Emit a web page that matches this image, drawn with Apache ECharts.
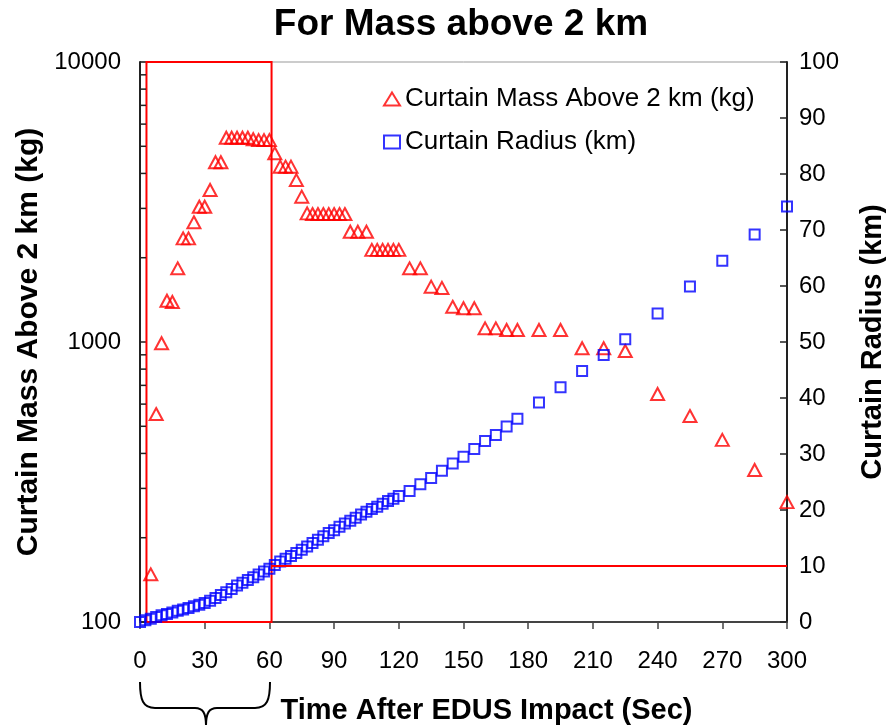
<!DOCTYPE html>
<html>
<head>
<meta charset="utf-8">
<script src="https://cdn.jsdelivr.net/npm/echarts@6/dist/echarts.min.js"></script>
<style>
html,body{margin:0;padding:0;background:#fff;overflow:hidden;}
#chart{width:886px;height:725px;}
</style>
</head>
<body>
<div id="chart"></div>
<script>
const titleText = 'For Mass above 2 km';
const massName = 'Curtain Mass Above 2 km (kg)';
const radiusName = 'Curtain Radius (km)';
const xName = 'Time After EDUS Impact (Sec)';

const massTime = [5,7.5,10,12.5,15,17.5,20,22.5,25,27.5,30,32.5,35,37.5,40,42.5,45,47.5,50,52.5,55,57.5,60,62.5,65,67.5,70,72.5,75,77.5,80,82.5,85,87.5,90,92.5,95,97.5,101,105,107.5,110,112.5,115,117.5,120,125,130,135,140,145,150,155,160,165,170,175,185,195,205,215,225,240,255,270,285,300];
const massKg = [148,553,990,1404,1390,1833,2345,2345,2676,3041,3041,3490,4385,4385,5366,5366,5366,5366,5366,5300,5262,5262,5262,4720,4228,4228,4228,3787,3304,2880,2864,2864,2864,2864,2864,2864,2864,2477,2477,2477,2133,2133,2133,2133,2133,2133,1833,1833,1576,1560,1336,1320,1320,1119,1119,1104,1104,1104,1104,950,950,929,652,544,447,349,268];

const radiusTime = [0,2.5,5,7.5,10,12.5,15,17.5,20,22.5,25,27.5,30,32.5,35,37.5,40,42.5,45,47.5,50,52.5,55,57.5,60,62.5,65,67.5,70,72.5,75,77.5,80,82.5,85,87.5,90,92.5,95,97.5,100,102.5,105,107.5,110,112.5,115,117.5,120,125,130,135,140,145,150,155,160,165,170,175,185,195,205,215,225,240,255,270,285,300];
const radiusKm = [0,0.3,0.6,0.9,1.2,1.45,1.7,2.0,2.25,2.5,2.8,3.1,3.4,3.8,4.3,4.8,5.3,5.9,6.5,7.0,7.5,8.0,8.5,9.0,9.5,10.2,10.8,11.3,11.8,12.3,12.9,13.5,14.1,14.7,15.3,15.9,16.4,17.0,17.6,18.1,18.6,19.2,19.7,20.2,20.6,21.1,21.6,22.0,22.5,23.4,24.6,25.7,27.0,28.3,29.5,30.9,32.3,33.4,34.9,36.3,39.2,41.9,44.8,47.7,50.5,55.1,59.9,64.5,69.2,74.2];

const minorMassTicks = [200,300,400,500,600,700,800,900,2000,3000,4000,5000,6000,7000,8000,9000];
const boxTime = [3, 61];
const boxMass = [100, 10000];
const refRadius = 10;
const refTime = [61, 300];

const font = 'Liberation Sans, Arial, sans-serif';
const chart = echarts.init(document.getElementById('chart'), null, {renderer: 'canvas', width: 886, height: 725});

const braceStyle = {fill: 'none', stroke: '#000', lineWidth: 2};
const option = {
  backgroundColor: '#fff',
  animation: false,
  title: {
    text: titleText, left: 456, textAlign: 'center', top: 1,
    textStyle: {fontFamily: font, fontWeight: 'bold', fontSize: 37, color: '#000'}
  },
  legend: {
    orient: 'vertical', left: 378, top: 81, itemGap: 17,
    itemWidth: 16, itemHeight: 13,
    textStyle: {fontFamily: font, fontSize: 26, color: '#000', lineHeight: 24},
    data: [
      {name: massName, icon: 'triangle', itemStyle: {color: 'transparent', borderColor: '#ff0000', borderWidth: 2}},
      {name: radiusName, icon: 'rect', itemStyle: {color: 'transparent', borderColor: '#0000ff', borderWidth: 2}}
    ]
  },
  grid: {left: 140, right: 99, top: 62, bottom: 103, containLabel: false, outerBoundsMode: 'none',
    show: true, borderColor: '#999', borderWidth: 1, backgroundColor: 'transparent'},
  xAxis: {
    type: 'value', min: 0, max: 300, interval: 30,
    name: xName, nameLocation: 'middle', nameGap: 74,
    nameTextStyle: {fontFamily: font, fontWeight: 'bold', fontSize: 29, color: '#000', padding: [0, 0, 0, 46]},
    axisLine: {show: true, lineStyle: {color: '#444', width: 2}},
    axisTick: {show: true, inside: false, length: 7, lineStyle: {color: '#444', width: 1.5}},
    axisLabel: {fontFamily: font, fontSize: 24, color: '#000', margin: 27},
    splitLine: {show: false}
  },
  yAxis: [
    {
      type: 'log', logBase: 10, min: 100, max: 10000, position: 'left',
      name: massName, nameLocation: 'middle', nameGap: 96, nameRotate: 90,
      nameTextStyle: {fontFamily: font, fontWeight: 'bold', fontSize: 30, color: '#000'},
      axisLine: {show: true, lineStyle: {color: '#222', width: 2}},
      axisTick: {show: true, inside: true, length: 7, lineStyle: {color: '#222', width: 1.5}},
      axisLabel: {fontFamily: font, fontSize: 24, color: '#000', margin: 19, formatter: v => String(Math.round(v))},
      splitLine: {show: false}
    },
    {
      type: 'value', min: 0, max: 100, interval: 10, position: 'right',
      name: radiusName, nameLocation: 'middle', nameGap: 71, nameRotate: 90,
      nameTextStyle: {fontFamily: font, fontWeight: 'bold', fontSize: 29, color: '#000'},
      axisLine: {show: true, lineStyle: {color: '#222', width: 2}},
      axisTick: {show: true, inside: true, length: 7, lineStyle: {color: '#222', width: 1.5}},
      axisLabel: {fontFamily: font, fontSize: 24, color: '#000', margin: 12},
      splitLine: {show: false}
    }
  ],
  series: [
    {
      type: 'custom', name: 'minorTicks', yAxisIndex: 0, silent: true, z: 5,
      data: minorMassTicks.map(v => [0, v]),
      clip: false,
      renderItem: function (params, api) {
        const p = api.coord([0, api.value(1)]);
        return {type: 'line', shape: {x1: p[0], y1: p[1], x2: p[0] + 6, y2: p[1]},
          style: {stroke: '#222', lineWidth: 1.5}};
      }
    },
    {
      name: massName, type: 'scatter', yAxisIndex: 0,
      symbol: 'triangle', symbolSize: [13, 12],
      itemStyle: {color: 'transparent', borderColor: '#ff0000', borderWidth: 2},
      data: massTime.map((t, i) => [t, massKg[i]]),
      markArea: {
        silent: true,
        itemStyle: {color: 'transparent', borderColor: '#ff0000', borderWidth: 2},
        data: [[{coord: [boxTime[0], boxMass[0]]}, {coord: [boxTime[1], boxMass[1]]}]]
      }
    },
    {
      name: radiusName, type: 'scatter', yAxisIndex: 1,
      symbol: 'rect', symbolSize: 10,
      itemStyle: {color: 'transparent', borderColor: '#0000ff', borderWidth: 2},
      data: radiusTime.map((t, i) => [t, radiusKm[i]]),
      markLine: {
        silent: true, symbol: 'none',
        label: {show: false},
        lineStyle: {color: '#ff0000', width: 2, type: 'solid'},
        data: [[{coord: [refTime[0], refRadius]}, {coord: [refTime[1], refRadius]}]]
      }
    }
  ],
  graphic: [
    {type: 'bezierCurve', silent: true, shape: {x1: 140, y1: 682, cpx1: 140, cpy1: 700, cpx2: 143, cpy2: 708, x2: 155, y2: 708}, style: braceStyle},
    {type: 'line', silent: true, shape: {x1: 155, y1: 708, x2: 195, y2: 708}, style: braceStyle},
    {type: 'bezierCurve', silent: true, shape: {x1: 195, y1: 708, cpx1: 203, cpy1: 708, cpx2: 206, cpy2: 713, x2: 206, y2: 726}, style: braceStyle},
    {type: 'bezierCurve', silent: true, shape: {x1: 270, y1: 682, cpx1: 270, cpy1: 700, cpx2: 267, cpy2: 708, x2: 255, y2: 708}, style: braceStyle},
    {type: 'line', silent: true, shape: {x1: 255, y1: 708, x2: 217, y2: 708}, style: braceStyle},
    {type: 'bezierCurve', silent: true, shape: {x1: 217, y1: 708, cpx1: 209, cpy1: 708, cpx2: 206, cpy2: 713, x2: 206, y2: 726}, style: braceStyle}
  ]
};
chart.setOption(option);
</script>
</body>
</html>
